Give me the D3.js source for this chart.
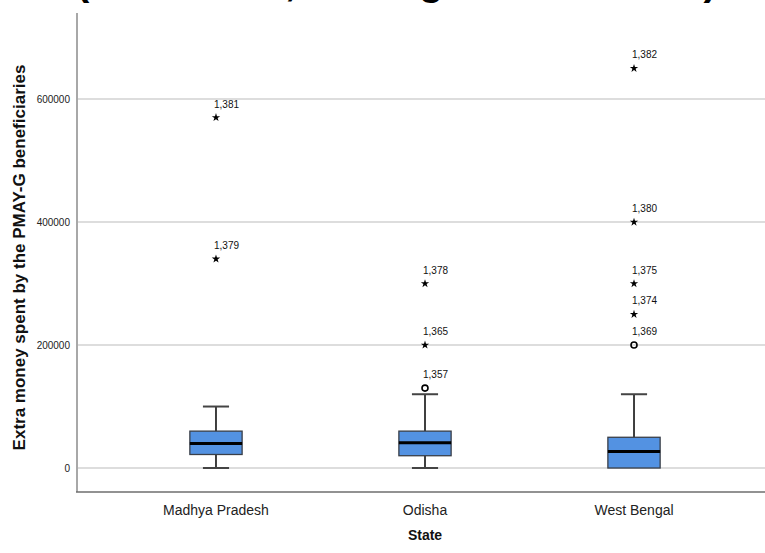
<!DOCTYPE html>
<html>
<head>
<meta charset="utf-8">
<script src="https://cdn.jsdelivr.net/npm/d3@7"></script>
<style>
  html, body { margin: 0; padding: 0; background: #fff; }
  svg { display: block; }
</style>
</head>
<body>
<svg id="chart" width="765" height="553"></svg>
<script>
// States on the x axis
const states = ["Madhya Pradesh", "Odisha", "West Bengal"];

// Five-number summaries (Rs.) per state
const whiskerLow  = [0, 0, 0];
const quartile1   = [22000, 20000, 0];
const medians     = [40000, 41000, 27000];
const quartile3   = [60000, 60000, 50000];
const whiskerHigh = [100000, 120000, 120000];

// Outlying cases: case label, value, marker kind ("o" = outlier, "*" = extreme)
const outliersMP = [
  { id: "1,381", value: 570000, kind: "*" },
  { id: "1,379", value: 340000, kind: "*" }
];
const outliersOD = [
  { id: "1,378", value: 300000, kind: "*" },
  { id: "1,365", value: 200000, kind: "*" },
  { id: "1,357", value: 130000, kind: "o" }
];
const outliersWB = [
  { id: "1,382", value: 650000, kind: "*" },
  { id: "1,380", value: 400000, kind: "*" },
  { id: "1,375", value: 300000, kind: "*" },
  { id: "1,374", value: 250000, kind: "*" },
  { id: "1,369", value: 200000, kind: "o" }
];
const yTicks = [0, 200000, 400000, 600000];

const titleText = "(State wise, Among Beneficiaries)";
const yTitle = "Extra money spent by the PMAY-G beneficiaries";
const xTitle = "State";

const outliers = [outliersMP, outliersOD, outliersWB];
const boxes = states.map((s, i) => ({
  state: s, lo: whiskerLow[i], q1: quartile1[i], med: medians[i],
  q3: quartile3[i], hi: whiskerHigh[i], out: outliers[i]
}));

const svg = d3.select("#chart");
const font = "'Liberation Sans', Arial, sans-serif";

const plot = { left: 77, right: 773, top: 13, bottom: 492 };

const x = d3.scaleBand().domain(states)
  .range([plot.left, plot.right]).paddingInner(0).paddingOuter(0.165);
const y = d3.scaleLinear().domain([-39000, 740000]).range([plot.bottom, plot.top]);

const cx = s => x(s) + x.bandwidth() / 2;
const boxW = x.bandwidth() * 0.25;
const capW = boxW * 0.5;

// Heading, running off the top edge
svg.append("text")
  .attr("x", 76).attr("y", -5)
  .attr("font-family", font).attr("font-weight", "bold").attr("font-size", 40)
  .attr("fill", "#000")
  .text(titleText);

// Horizontal grid lines
svg.append("g").selectAll("line").data(yTicks).join("line")
  .attr("x1", plot.left).attr("x2", 765)
  .attr("y1", d => y(d)).attr("y2", d => y(d))
  .attr("stroke", "#d2d2d2").attr("stroke-width", 1.5);

// Y axis
const yAxis = svg.append("g")
  .attr("transform", `translate(${plot.left},0)`)
  .call(d3.axisLeft(y).tickValues(yTicks).tickSize(0).tickPadding(7).tickFormat(d3.format("d")));
yAxis.select(".domain").remove();
yAxis.selectAll("text")
  .attr("font-family", font).attr("font-size", 10).attr("fill", "#222");
svg.append("line")
  .attr("x1", plot.left).attr("x2", plot.left)
  .attr("y1", plot.top).attr("y2", plot.bottom)
  .attr("stroke", "#a8a8a8").attr("stroke-width", 2);

// X axis
const xAxis = svg.append("g")
  .attr("transform", `translate(0,${plot.bottom})`)
  .call(d3.axisBottom(x).tickSize(0).tickPadding(13));
xAxis.select(".domain").remove();
xAxis.selectAll("text")
  .attr("font-family", font).attr("font-size", 14).attr("fill", "#222");
svg.append("line")
  .attr("x1", plot.left - 1).attr("x2", 765)
  .attr("y1", plot.bottom).attr("y2", plot.bottom)
  .attr("stroke", "#6e6e6e").attr("stroke-width", 1.5);

// Axis titles
svg.append("text")
  .attr("x", cx("Odisha")).attr("y", 540)
  .attr("text-anchor", "middle")
  .attr("font-family", font).attr("font-weight", "bold").attr("font-size", 14)
  .attr("fill", "#111")
  .text(xTitle);
svg.append("text")
  .attr("transform", `translate(25,${(plot.top + plot.bottom) / 2 + 5}) rotate(-90)`)
  .attr("text-anchor", "middle")
  .attr("font-family", font).attr("font-weight", "bold").attr("font-size", 17)
  .attr("fill", "#111")
  .text(yTitle);

// Box plots
const g = svg.append("g").selectAll("g").data(boxes).join("g");

// whisker stems
g.append("line")
  .attr("x1", d => cx(d.state)).attr("x2", d => cx(d.state))
  .attr("y1", d => y(d.hi)).attr("y2", d => y(d.q3))
  .attr("stroke", "#000").attr("stroke-width", 1.5);
g.append("line")
  .attr("x1", d => cx(d.state)).attr("x2", d => cx(d.state))
  .attr("y1", d => y(d.q1)).attr("y2", d => y(d.lo))
  .attr("stroke", "#000").attr("stroke-width", 1.5);
// whisker caps
g.filter(d => d.hi > d.q3).append("line")
  .attr("x1", d => cx(d.state) - capW / 2).attr("x2", d => cx(d.state) + capW / 2)
  .attr("y1", d => y(d.hi)).attr("y2", d => y(d.hi))
  .attr("stroke", "#444").attr("stroke-width", 2);
g.filter(d => d.lo < d.q1).append("line")
  .attr("x1", d => cx(d.state) - capW / 2).attr("x2", d => cx(d.state) + capW / 2)
  .attr("y1", d => y(d.lo)).attr("y2", d => y(d.lo))
  .attr("stroke", "#444").attr("stroke-width", 2);
// box
g.append("rect")
  .attr("x", d => cx(d.state) - boxW / 2).attr("width", boxW)
  .attr("y", d => y(d.q3)).attr("height", d => y(d.q1) - y(d.q3))
  .attr("fill", "#5392e2").attr("stroke", "#3a3f48").attr("stroke-width", 1.3);
// median
g.append("line")
  .attr("x1", d => cx(d.state) - boxW / 2).attr("x2", d => cx(d.state) + boxW / 2)
  .attr("y1", d => y(d.med)).attr("y2", d => y(d.med))
  .attr("stroke", "#000").attr("stroke-width", 3);

// Outliers and extremes
const star = d3.symbol().type(d3.symbolStar).size(22);
const pts = g.selectAll("g.pt").data(d => d.out.map(o => ({ ...o, state: d.state })))
  .join("g").attr("class", "pt")
  .attr("transform", o => `translate(${cx(o.state)},${y(o.value)})`);
pts.filter(o => o.kind === "*").append("path")
  .attr("d", star).attr("fill", "#000");
pts.filter(o => o.kind === "o").append("circle")
  .attr("r", 3).attr("fill", "none").attr("stroke", "#000").attr("stroke-width", 1.6);
pts.append("text")
  .attr("x", -2).attr("y", -10)
  .attr("font-family", font).attr("font-size", 10).attr("fill", "#111")
  .text(o => o.id);
</script>
</body>
</html>
